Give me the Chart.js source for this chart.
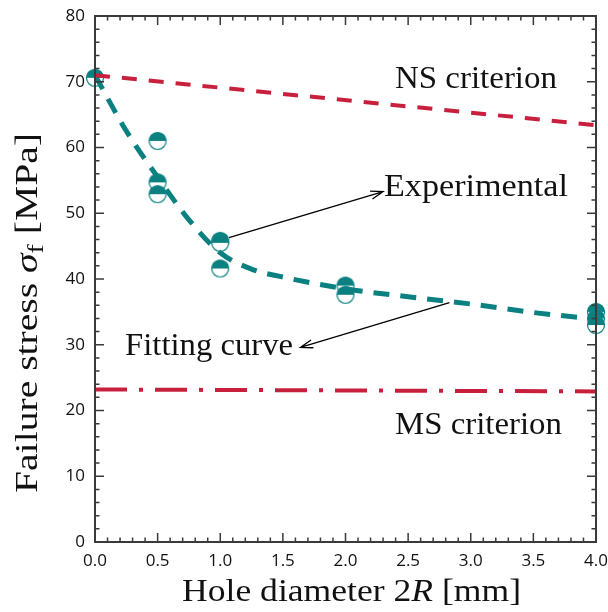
<!DOCTYPE html>
<html>
<head>
<meta charset="utf-8">
<script src="https://cdn.jsdelivr.net/npm/chart.js@4.4.0/dist/chart.umd.min.js"></script>
<style>
  html, body { margin: 0; padding: 0; background: #fff; }
</style>
</head>
<body>
<canvas id="chart" width="608" height="612"></canvas>
<script>
// measured failure stress [MPa] against hole diameter 2R [mm]
var expX = [0, 0.5, 0.5, 0.5, 1, 1, 1, 2, 2, 4, 4, 4];
var expY = [70.6, 61.0, 54.7, 52.9, 45.8, 45.5, 41.6, 39.0, 37.6, 35.0, 34.0, 33.0];

// fitted curve through the tests
var fitX = [0, 0.25, 0.5, 0.75, 1.0, 1.25, 1.5, 2.0, 2.5, 3.0, 3.5, 4.0];
var fitY = [71.0, 62.5, 55.5, 49.0, 44.0, 41.5, 40.3, 38.5, 37.3, 36.2, 34.9, 33.9];

// point stress (NS) and mean stress (MS) predictions
var nsX = [0, 4];
var nsY = [71.0, 63.4];
var msX = [0, 4];
var msY = [23.2, 22.9];

var xTicks = [0, 0.5, 1.0, 1.5, 2.0, 2.5, 3.0, 3.5, 4.0];
var yTicks = [0, 10, 20, 30, 40, 50, 60, 70, 80];

var TEAL = '#0a8080';
var RED = '#c8203c';
var SERIF = '"Liberation Serif", "Times New Roman", serif';

function pairs(xs, ys) {
  return xs.map(function (x, i) { return { x: x, y: ys[i] }; });
}

// circle with the upper half filled
function halfDot(r) {
  var s = Math.ceil(r * 2 + 3);
  var c = document.createElement('canvas');
  c.width = s; c.height = s;
  var g = c.getContext('2d');
  var m = s / 2;
  g.beginPath(); g.arc(m, m, r, 0, Math.PI * 2); g.fillStyle = '#fff'; g.fill();
  g.beginPath(); g.arc(m, m, r, Math.PI, Math.PI * 2); g.closePath(); g.fillStyle = TEAL; g.fill();
  g.beginPath(); g.arc(m, m, r, 0, Math.PI * 2); g.strokeStyle = TEAL; g.lineWidth = 1.2; g.stroke();
  return c;
}

function partFont(p, size) {
  var sz = p.sub ? size * 0.7 : size;
  return (p.italic ? 'italic ' : '') + sz + 'px ' + SERIF;
}

// text made of pieces (italic, subscript), stretched to a given width
function drawRich(ctx, parts, x, y, size, width, align) {
  var w = 0;
  parts.forEach(function (p) { ctx.font = partFont(p, size); w += ctx.measureText(p.t).width; });
  ctx.save();
  ctx.translate(x, y);
  ctx.scale(width ? width / w : 1, 1);
  var cx = align === 'center' ? -w / 2 : 0;
  ctx.textAlign = 'left';
  ctx.textBaseline = 'alphabetic';
  ctx.fillStyle = '#111';
  parts.forEach(function (p) {
    ctx.font = partFont(p, size);
    ctx.fillText(p.t, cx, p.sub ? size * 0.2 : 0);
    cx += ctx.measureText(p.t).width;
  });
  ctx.restore();
}

function arrow(ctx, x0, y0, x1, y1) {
  var a = Math.atan2(y1 - y0, x1 - x0);
  var L = 13, h = 0.32;
  ctx.beginPath();
  ctx.moveTo(x0, y0); ctx.lineTo(x1, y1);
  ctx.moveTo(x1 - L * Math.cos(a - h), y1 - L * Math.sin(a - h));
  ctx.lineTo(x1, y1);
  ctx.lineTo(x1 - L * Math.cos(a + h), y1 - L * Math.sin(a + h));
  ctx.stroke();
}

// box with inward major/minor ticks on all four sides
var frame = {
  id: 'frame',
  afterDatasetsDraw: function (chart) {
    var ctx = chart.ctx, a = chart.chartArea;
    var xs = chart.scales.x, ys = chart.scales.y;
    ctx.save();
    ctx.strokeStyle = '#3a3a3a';
    ctx.lineWidth = 1.5;
    ctx.beginPath();
    for (var i = 0; i <= 40; i++) {
      var px = xs.getPixelForValue(i / 10);
      var len = i % 5 === 0 ? 9 : 4.5;
      ctx.moveTo(px, a.bottom); ctx.lineTo(px, a.bottom - len);
      ctx.moveTo(px, a.top); ctx.lineTo(px, a.top + len);
    }
    for (var j = 0; j <= 40; j++) {
      var py = ys.getPixelForValue(j * 2);
      var l2 = j % 5 === 0 ? 9 : 4.5;
      ctx.moveTo(a.left, py); ctx.lineTo(a.left + l2, py);
      ctx.moveTo(a.right, py); ctx.lineTo(a.right - l2, py);
    }
    ctx.stroke();
    ctx.lineWidth = 2;
    ctx.strokeRect(a.left, a.top, a.right - a.left, a.bottom - a.top);
    ctx.restore();
  },
  afterDraw: function (chart) {
    var ctx = chart.ctx, a = chart.chartArea;
    var xs = chart.scales.x, ys = chart.scales.y;
    var X = function (v) { return xs.getPixelForValue(v); };
    var Y = function (v) { return ys.getPixelForValue(v); };

    drawRich(ctx, [{ t: 'NS criterion' }], X(2.395), Y(69.0), 31, 162);
    drawRich(ctx, [{ t: 'MS criterion' }], X(2.395), Y(16.5), 31, 167);
    drawRich(ctx, [{ t: 'Experimental' }], X(2.307), Y(52.6), 31, 184);
    drawRich(ctx, [{ t: 'Fitting curve' }], X(0.24), Y(28.5), 31, 168);

    ctx.save();
    ctx.strokeStyle = '#000';
    ctx.lineWidth = 1.3;
    arrow(ctx, X(1.07), Y(46.3), X(2.30), Y(53.3));
    arrow(ctx, X(2.83), Y(36.4), X(1.64), Y(29.6));
    ctx.restore();

    // axis titles
    drawRich(ctx, [{ t: 'Hole diameter 2' }, { t: 'R', italic: true }, { t: ' [mm]' }],
      (a.left + a.right) / 2 + 6, 601, 32, 339, 'center');
    ctx.save();
    ctx.translate(37, 313);
    ctx.rotate(-Math.PI / 2);
    drawRich(ctx, [{ t: 'Failure stress ' }, { t: 'σ', italic: true }, { t: 'f', sub: true }, { t: ' [MPa]' }],
      0, 0, 32, 360, 'center');
    ctx.restore();
  }
};

var tickFont = { family: '"Open Sans", sans-serif', size: 17 };

var config = {
  type: 'scatter',
  data: {
    datasets: [
      {
        label: 'NS criterion',
        data: pairs(nsX, nsY),
        showLine: true,
        borderColor: RED,
        borderWidth: 4,
        borderDash: [15, 12],
        pointRadius: 0,
        order: 1
      },
      {
        label: 'MS criterion',
        data: pairs(msX, msY),
        showLine: true,
        borderColor: RED,
        borderWidth: 4,
        borderDash: [32, 12, 4, 12],
        pointRadius: 0,
        order: 1
      },
      {
        label: 'Fitting curve',
        data: pairs(fitX, fitY),
        showLine: true,
        borderColor: TEAL,
        borderWidth: 5,
        borderDash: [16, 11],
        cubicInterpolationMode: 'monotone',
        pointRadius: 0,
        order: 2
      },
      {
        label: 'Experimental',
        data: pairs(expX, expY),
        pointStyle: halfDot(8.5),
        pointRadius: 9,
        clip: false,
        order: 3
      }
    ]
  },
  options: {
    responsive: false,
    animation: false,
    layout: { padding: { left: 0, right: 12, top: 16, bottom: 0 } },
    plugins: { legend: { display: false }, tooltip: { enabled: false } },
    scales: {
      x: {
        type: 'linear',
        min: 0,
        max: 4,
        afterBuildTicks: function (s) { s.ticks = xTicks.map(function (v) { return { value: v }; }); },
        afterFit: function (s) { s.height = 70; s.paddingLeft = 0; s.paddingRight = 0; },
        grid: { display: false, drawTicks: false },
        border: { display: false },
        ticks: {
          font: tickFont,
          color: '#111',
          padding: 9,
          maxRotation: 0,
          autoSkip: false,
          callback: function (v) { return v.toFixed(1); }
        }
      },
      y: {
        min: 0,
        max: 80,
        afterBuildTicks: function (s) { s.ticks = yTicks.map(function (v) { return { value: v }; }); },
        afterFit: function (s) { s.width = 95; s.paddingTop = 0; s.paddingBottom = 0; },
        grid: { display: false, drawTicks: false },
        border: { display: false },
        ticks: { font: tickFont, color: '#111', padding: 10 }
      }
    }
  },
  plugins: [frame]
};

window.onload = function () {
  var ctx = document.getElementById('chart').getContext('2d');
  window.stressChart = new Chart(ctx, config);
};
</script>
</body>
</html>
